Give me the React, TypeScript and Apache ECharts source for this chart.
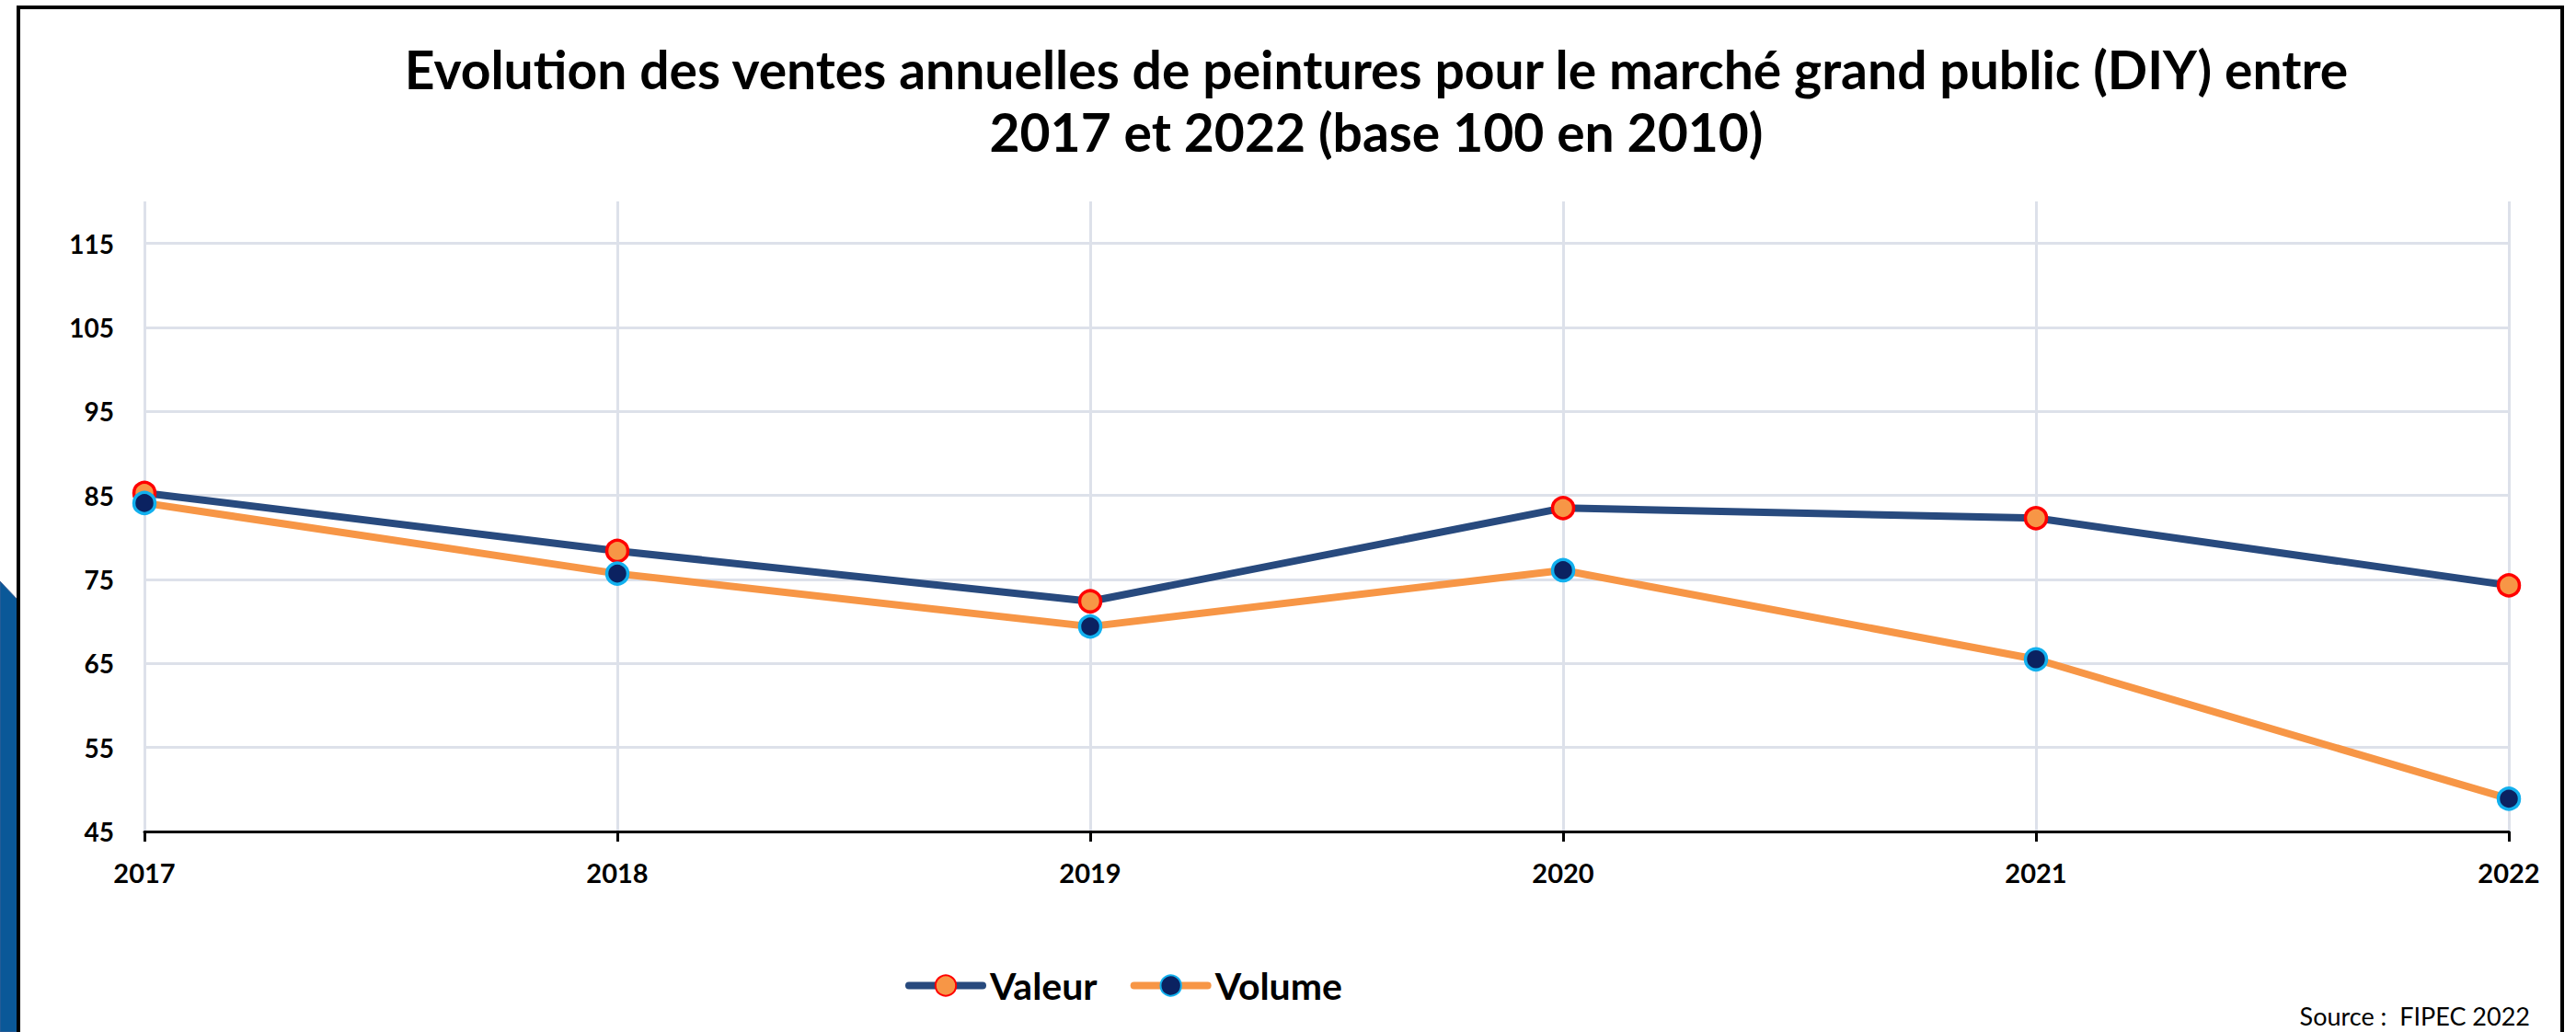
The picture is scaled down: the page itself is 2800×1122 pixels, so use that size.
import React, { useEffect, useRef } from "react";
import * as echarts from "echarts";

const years = ["2017", "2018", "2019", "2020", "2021", "2022"];
const valeur = [85.3, 78.4, 72.4, 83.5, 82.3, 74.3];
const volume = [84.1, 75.7, 69.4, 76.1, 65.5, 48.9];
const titleLine1 = "Evolution des ventes annuelles de peintures pour le marché grand public (DIY) entre";
const titleLine2 = "2017 et 2022 (base 100 en 2010)";
const sourceText = "Source :  FIPEC 2022";

const FONT = "Lato, 'Open Sans', 'DejaVu Sans', sans-serif";

export default function App() {
  const ref = useRef<HTMLDivElement>(null);
  useEffect(() => {
    if (!ref.current) return;
    const chart = echarts.init(ref.current, null, { renderer: "svg" });
    chart.setOption({
      animation: false,
      backgroundColor: "#ffffff",
      textStyle: { fontFamily: FONT },
      grid: { left: 157, right: 73, top: 219, bottom: 218, containLabel: false },
      legend: {
        left: 979,
        top: 1046,
        itemWidth: 80,
        itemHeight: 28,
        itemGap: 36,
        lineStyle: { width: 8, cap: "round" },
        textStyle: { fontFamily: FONT, fontWeight: "bold", fontSize: 41, color: "#000000", padding: [0, 0, 0, 3] },
        data: ["Valeur", "Volume"],
      },
      xAxis: {
        type: "category",
        data: years,
        boundaryGap: false,
        axisLine: { show: true, lineStyle: { color: "#000000", width: 3 } },
        axisTick: { show: true, length: 11, lineStyle: { color: "#000000", width: 3 } },
        axisLabel: { fontFamily: FONT, fontWeight: "bold", fontSize: 29, color: "#000000", margin: 30 },
        splitLine: { show: true, lineStyle: { color: "#dde1ea", width: 3 } },
      },
      yAxis: {
        type: "value",
        min: 45,
        max: 120,
        interval: 10,
        axisLine: { show: false },
        axisTick: { show: false },
        axisLabel: { fontFamily: FONT, fontWeight: "bold", fontSize: 28, color: "#000000", margin: 33, showMaxLabel: false },
        splitLine: { show: true, showMaxLine: false, lineStyle: { color: "#dde1ea", width: 3 } },
      },
      series: [
        {
          name: "Valeur",
          type: "line",
          data: valeur,
          symbol: "circle",
          symbolSize: 23,
          lineStyle: { color: "#284a7e", width: 8 },
          itemStyle: { color: "#f79646", borderColor: "#ff0000", borderWidth: 3.5 },
          z: 3,
        },
        {
          name: "Volume",
          type: "line",
          data: volume,
          symbol: "circle",
          symbolSize: 23,
          lineStyle: { color: "#f79646", width: 8 },
          itemStyle: { color: "#0b2261", borderColor: "#12b0ee", borderWidth: 3.5 },
          z: 4,
        },
      ],
      graphic: [
        {
          type: "polygon",
          z: 1,
          shape: { points: [[0, 632], [20, 653], [20, 1122], [0, 1122]] },
          style: { fill: "#0a5898", stroke: "#3d5f96", lineWidth: 1 },
        },
        {
          type: "rect",
          z: 2,
          shape: { x: 20, y: 8, width: 2765, height: 1200 },
          style: { fill: "none", stroke: "#000000", lineWidth: 4 },
        },
        {
          type: "text",
          z: 5,
          x: 1496,
          y: 75,
          style: {
            text: titleLine1,
            fontFamily: FONT,
            fontWeight: "bold",
            fontSize: 57,
            fill: "#000000",
            textAlign: "center",
            textVerticalAlign: "middle",
          },
        },
        {
          type: "text",
          z: 5,
          x: 1496,
          y: 143,
          style: {
            text: titleLine2,
            fontFamily: FONT,
            fontWeight: "bold",
            fontSize: 57,
            fill: "#000000",
            textAlign: "center",
            textVerticalAlign: "middle",
          },
        },
        {
          type: "text",
          z: 5,
          x: 2750,
          y: 1104,
          style: {
            text: sourceText,
            fontFamily: FONT,
            fontSize: 27,
            fill: "#000000",
            textAlign: "right",
            textVerticalAlign: "middle",
          },
        },
      ],
    });
    return () => chart.dispose();
  }, []);
  return (
    <div
      ref={ref}
      style={{ position: "absolute", left: 0, top: 0, width: 2800, height: 1122, background: "#ffffff" }}
    />
  );
}
